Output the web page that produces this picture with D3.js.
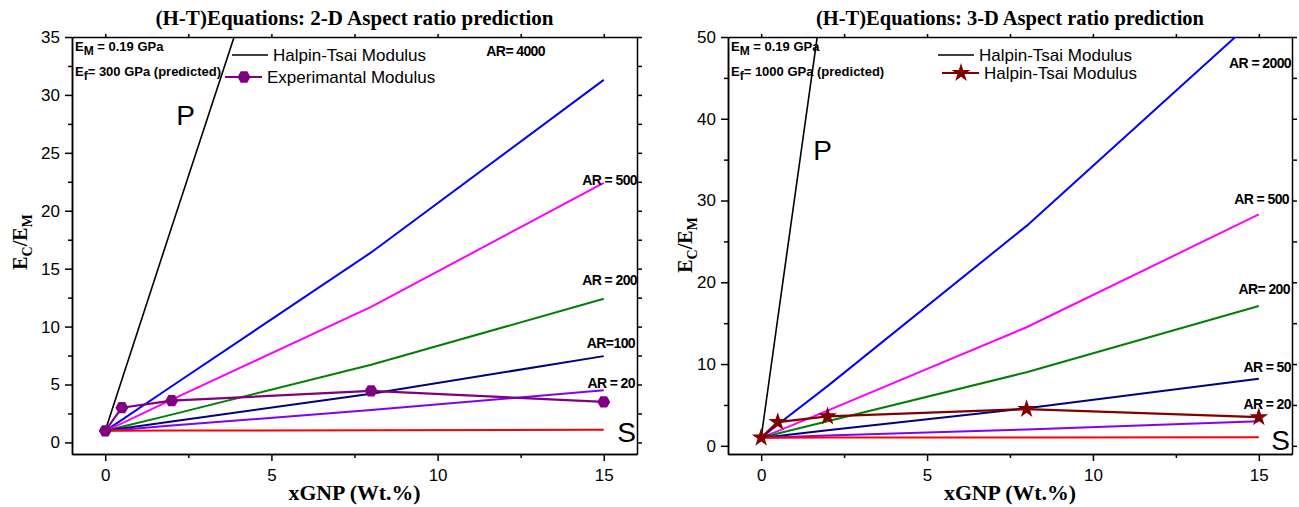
<!DOCTYPE html>
<html>
<head>
<meta charset="utf-8">
<script src="https://cdn.jsdelivr.net/npm/d3@7"></script>
<style>
  body { margin: 0; background: #fff; }
  svg { display: block; }
  .tick text { font-family: "Liberation Sans", Arial, sans-serif; font-size: 17px; fill: #000; }
  .domain, .tick line { stroke: #000; stroke-width: 1.5; }
</style>
</head>
<body>
<svg id="chart" width="1299" height="507"></svg>
<script>
"use strict";

var xValues = [0, 0.5, 2, 8, 15];

// 2-D panel values (Ec/Em)
var leftP = [1, 5.4, 18.6, 71, 133];
var leftAR4000 = [1, 1.95, 4.85, 16.4, 31.3];
var leftAR500 = [1, 1.65, 3.7, 11.7, 22.4];
var leftAR200 = [1, 1.35, 2.4, 6.7, 12.4];
var leftAR100 = [1, 1.2, 1.8, 4.2, 7.45];
var leftAR20 = [1, 1.1, 1.45, 2.8, 4.5];
var leftS = [1, 1.01, 1.02, 1.05, 1.1];
var leftExp = [1, 3.0, 3.6, 4.45, 3.5];

// 3-D panel values
var rightP = [1, 15.6, 59, 230, 430];
var rightAR2000 = [1, 2.6, 7.3, 26.9, 52.6];
var rightAR500 = [1, 1.8, 4.3, 14.5, 28.3];
var rightAR200 = [1, 1.5, 3.0, 9.0, 17.1];
var rightAR50 = [1, 1.2, 1.9, 4.6, 8.2];
var rightAR20 = [1, 1.06, 1.25, 2.0, 3.0];
var rightS = [1, 1.0, 1.01, 1.03, 1.05];
var rightExp = [1, 2.9, 3.6, 4.5, 3.5];

var xTicks = [0, 5, 10, 15];
var xMinor = [2.5, 7.5, 12.5];
var leftYTicks = [0, 5, 10, 15, 20, 25, 30, 35];
var leftYMinor = [2.5, 7.5, 12.5, 17.5, 22.5, 27.5, 32.5];
var rightYTicks = [0, 10, 20, 30, 40, 50];
var rightYMinor = [5, 15, 25, 35, 45];

var svg = d3.select("#chart");
var narrow = "'Liberation Sans Narrow', 'Liberation Sans', Arial, sans-serif";
var hexagon = function (r) {
  var pts = d3.range(6).map(function (i) {
    var a = Math.PI / 3 * i;
    return [r * Math.cos(a), r * Math.sin(a)];
  });
  return "M" + pts.join("L") + "Z";
};

function drawPanel(p) {
  var x = d3.scaleLinear().domain([-1, 16]).range([p.left, p.right]);
  var y = d3.scaleLinear().domain([p.yMin, p.yMax]).range([454, 37]);
  var g = svg.append("g");

  g.append("clipPath").attr("id", p.id + "clip").append("rect")
    .attr("x", p.left).attr("y", 37).attr("width", p.right - p.left).attr("height", 454 - 37);

  // axes
  g.append("g").attr("transform", "translate(0,454)")
    .call(d3.axisBottom(x).tickValues(xTicks).tickSize(7).tickSizeOuter(0).tickPadding(8));
  g.append("g").attr("transform", "translate(0,454)")
    .call(d3.axisBottom(x).tickValues(xMinor).tickSize(4).tickSizeOuter(0).tickFormat(""));
  g.append("g").attr("transform", "translate(" + p.left + ",0)")
    .call(d3.axisLeft(y).tickValues(p.yTicks).tickSize(7).tickSizeOuter(0).tickPadding(5));
  g.append("g").attr("transform", "translate(" + p.left + ",0)")
    .call(d3.axisLeft(y).tickValues(p.yMinor).tickSize(4).tickSizeOuter(0).tickFormat(""));
  g.append("g").attr("transform", "translate(0,37)")
    .call(d3.axisTop(x).tickValues(xTicks.concat(xMinor)).tickSize(3).tickSizeOuter(0).tickFormat(""));
  g.append("g").attr("transform", "translate(" + p.right + ",0)")
    .call(d3.axisRight(y).tickValues(p.yTicks.concat(p.yMinor)).tickSize(5).tickSizeOuter(0).tickFormat(""));

  var line = d3.line().x(function (d, i) { return x(xValues[i]); }).y(function (d) { return y(d); });
  var plot = g.append("g").attr("clip-path", "url(#" + p.id + "clip)");

  plot.selectAll("path.series").data(p.series).enter().append("path")
    .attr("class", "series")
    .attr("fill", "none")
    .attr("stroke", function (d) { return d.color; })
    .attr("stroke-width", function (d) { return d.width; })
    .attr("d", function (d) { return line(d.values); });

  plot.append("path").attr("fill", "none").attr("stroke", p.expColor).attr("stroke-width", 2.2)
    .attr("d", line(p.exp));
  plot.selectAll("path.mk").data(p.exp).enter().append("path")
    .attr("class", "mk")
    .attr("transform", function (d, i) { return "translate(" + x(xValues[i]) + "," + y(d) + ")"; })
    .attr("d", p.marker)
    .attr("fill", p.expColor);

  // titles
  g.append("text").attr("x", (p.left + p.right) / 2).attr("y", 25)
    .attr("text-anchor", "middle")
    .attr("font-family", "'Liberation Serif', 'Times New Roman', serif")
    .attr("font-weight", "bold").attr("font-size", 21)
    .attr("textLength", p.titleLen).attr("lengthAdjust", "spacingAndGlyphs")
    .text(p.title);

  g.append("text").attr("x", (p.left + p.right) / 2).attr("y", 500)
    .attr("text-anchor", "middle")
    .attr("font-family", "'Liberation Serif', 'Times New Roman', serif")
    .attr("font-weight", "bold").attr("font-size", 20)
    .attr("textLength", 132).attr("lengthAdjust", "spacingAndGlyphs")
    .text("xGNP (Wt.%)");

  var yl = g.append("text")
    .attr("transform", "translate(" + p.yLabelX + "," + p.yLabelY + ") rotate(-90)")
    .attr("text-anchor", "middle")
    .attr("font-family", "'Liberation Serif', 'Times New Roman', serif")
    .attr("font-weight", "bold").attr("font-size", 20);
  yl.append("tspan").text("E");
  yl.append("tspan").attr("font-size", 14).attr("dy", 5).text("C");
  yl.append("tspan").attr("dy", -5).text("/E");
  yl.append("tspan").attr("font-size", 14).attr("dy", 5).text("M");

  // property notes
  var n1 = g.append("text").attr("x", p.left + 3).attr("y", 51)
    .attr("font-family", narrow).attr("font-weight", "bold").attr("font-size", 13);
  n1.append("tspan").text("E");
  n1.append("tspan").attr("font-size", 12).attr("dy", 4).text("M");
  n1.append("tspan").attr("dy", -4).text(" = 0.19 GPa");
  var n2 = g.append("text").attr("x", p.left + 3).attr("y", 76)
    .attr("font-family", narrow).attr("font-weight", "bold").attr("font-size", 13);
  n2.append("tspan").text("E");
  n2.append("tspan").attr("font-size", 12).attr("dy", 4).text("f");
  n2.append("tspan").attr("dy", -4).text("= " + p.ef + " GPa (predicted)");

  // legend
  var lg = g.append("g").attr("transform", "translate(" + p.legendX + ",0)");
  lg.append("line").attr("x1", 0).attr("x2", 36).attr("y1", 55).attr("y2", 55)
    .attr("stroke", "#000").attr("stroke-width", 1.5);
  lg.append("text").attr("x", 41).attr("y", 61)
    .attr("font-family", "'Liberation Sans', Arial, sans-serif").attr("font-size", 17)
    .text("Halpin-Tsai Modulus");
  lg.append("line").attr("x1", p.leg2dx).attr("x2", p.leg2dx + 37).attr("y1", p.leg2y).attr("y2", p.leg2y)
    .attr("stroke", p.expColor).attr("stroke-width", 2);
  lg.append("path").attr("transform", "translate(" + (p.leg2dx + 19) + "," + p.leg2y + ")")
    .attr("d", p.marker).attr("fill", p.expColor);
  lg.append("text").attr("x", p.leg2dx + 42).attr("y", p.leg2y + 6)
    .attr("font-family", "'Liberation Sans', Arial, sans-serif").attr("font-size", 17)
    .text(p.expName);

  // series labels
  g.selectAll("text.ar").data(p.labels).enter().append("text")
    .attr("class", "ar")
    .attr("x", function (d) { return d.x; })
    .attr("y", function (d) { return d.y; })
    .attr("text-anchor", "end")
    .attr("font-family", function (d) { return d.big ? "'Liberation Sans', Arial, sans-serif" : narrow; })
    .attr("font-weight", function (d) { return d.big ? "normal" : "bold"; })
    .attr("font-size", function (d) { return d.big ? 28 : 14; })
    .attr("letter-spacing", function (d) { return d.big ? 0 : -0.6; })
    .text(function (d) { return d.text; });
}

drawPanel({
  id: "left", left: 72, right: 637, yMin: -1, yMax: 35,
  yTicks: leftYTicks, yMinor: leftYMinor,
  series: [
    { values: leftP, color: "#000000", width: 1.6 },
    { values: leftAR4000, color: "#0000ff", width: 2 },
    { values: leftAR500, color: "#ff00ff", width: 2 },
    { values: leftAR200, color: "#008000", width: 2 },
    { values: leftAR100, color: "#000080", width: 2 },
    { values: leftAR20, color: "#8000ff", width: 2 },
    { values: leftS, color: "#ff0000", width: 2 }
  ],
  exp: leftExp, expColor: "#800080", marker: hexagon(6.5),
  title: "(H-T)Equations: 2-D Aspect ratio prediction", titleLen: 398,
  yLabelX: 27, yLabelY: 242, ef: "300",
  legendX: 232, leg2dx: -7, leg2y: 77, expName: "Experimantal Modulus",
  labels: [
    { text: "AR= 4000", x: 545, y: 56 },
    { text: "AR = 500", x: 637, y: 185 },
    { text: "AR = 200", x: 637, y: 285 },
    { text: "AR=100", x: 635, y: 348 },
    { text: "AR = 20", x: 635, y: 388 },
    { text: "S", x: 636, y: 442, big: true },
    { text: "P", x: 195, y: 125, big: true }
  ]
});

drawPanel({
  id: "right", left: 728, right: 1292, yMin: -1, yMax: 50,
  yTicks: rightYTicks, yMinor: rightYMinor,
  series: [
    { values: rightP, color: "#000000", width: 1.6 },
    { values: rightAR2000, color: "#0000ff", width: 2 },
    { values: rightAR500, color: "#ff00ff", width: 2 },
    { values: rightAR200, color: "#008000", width: 2 },
    { values: rightAR50, color: "#000080", width: 2 },
    { values: rightAR20, color: "#8000ff", width: 2 },
    { values: rightS, color: "#ff0000", width: 2 }
  ],
  exp: rightExp, expColor: "#800000", marker: d3.symbol(d3.symbolStar, 110)(),
  title: "(H-T)Equations: 3-D Aspect ratio prediction", titleLen: 388,
  yLabelX: 692, yLabelY: 245, ef: "1000",
  legendX: 938, leg2dx: 4, leg2y: 73, expName: "Halpin-Tsai Modulus",
  labels: [
    { text: "AR = 2000", x: 1291, y: 68 },
    { text: "AR = 500", x: 1289, y: 204 },
    { text: "AR= 200", x: 1290, y: 294 },
    { text: "AR = 50", x: 1291, y: 372 },
    { text: "AR = 20", x: 1291, y: 409 },
    { text: "S", x: 1290, y: 450, big: true },
    { text: "P", x: 832, y: 160, big: true }
  ]
});
</script>
</body>
</html>
